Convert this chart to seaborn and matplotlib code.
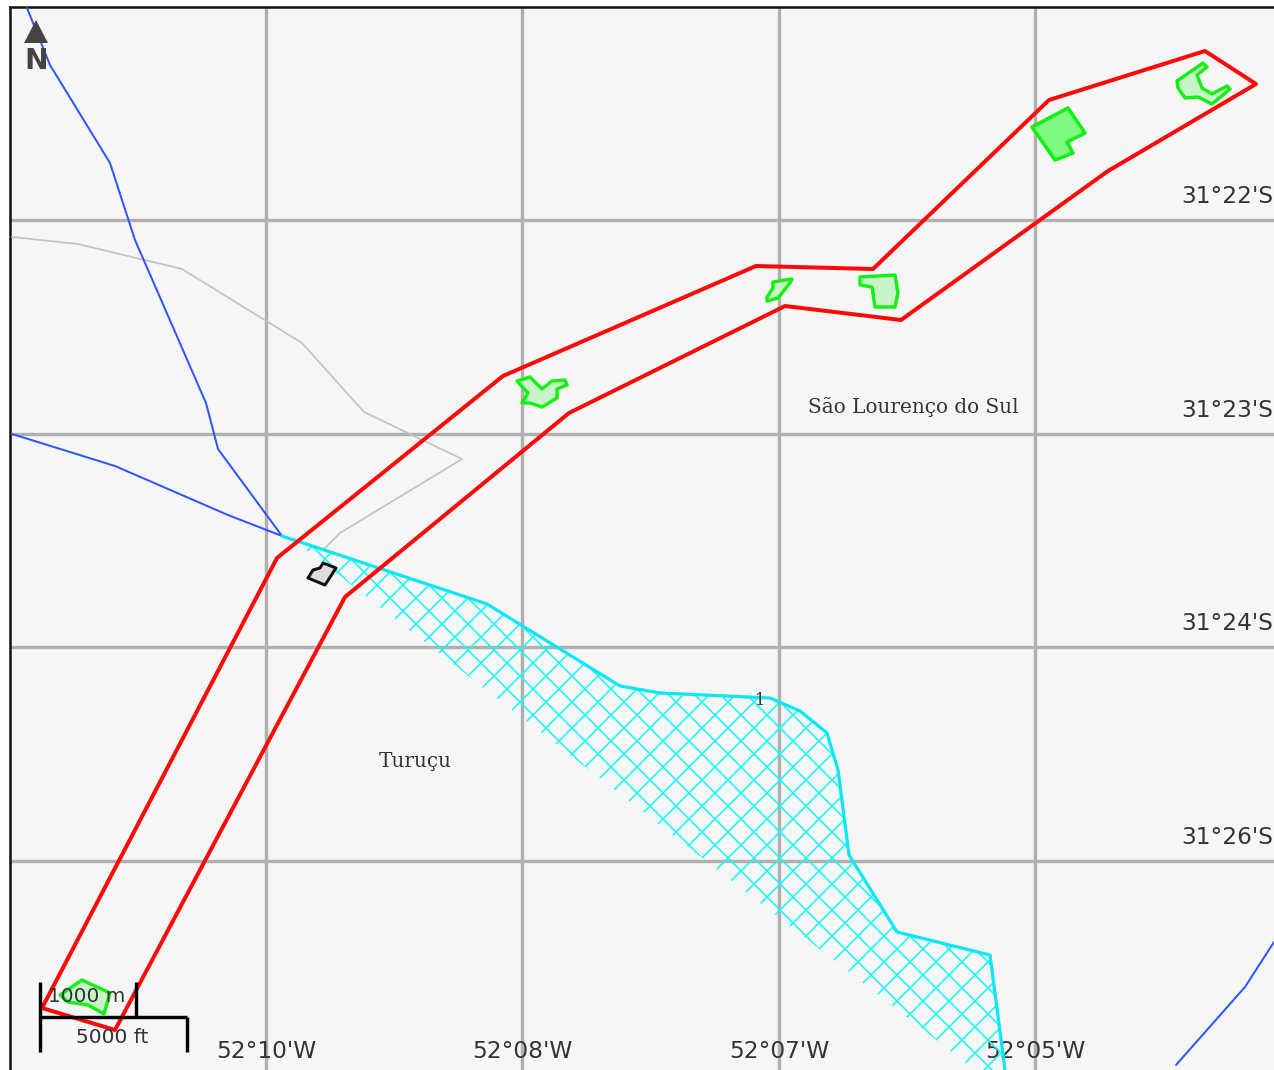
import matplotlib
matplotlib.use("Agg")
import matplotlib.pyplot as plt
from matplotlib.patches import Polygon
from matplotlib.transforms import ScaledTranslation
import pandas as pd
import seaborn as sns

lon_ticks = [266, 522, 779, 1035]
lon_labels = ["52°10'W", "52°08'W", "52°07'W", "52°05'W"]
lat_ticks = [220, 434, 647, 861]
lat_labels = ["31°22'S", "31°23'S", "31°24'S", "31°26'S"]

corridor_x = [42, 277, 503, 756, 873, 1049, 1205, 1256, 1108, 901, 785, 569, 345, 115, 42]
corridor_y = [1008, 558, 376, 266, 269, 100, 51, 84, 171, 320, 306, 413, 597, 1030, 1008]

river1_x = [27, 50, 110, 135, 206, 218, 282]
river1_y = [8, 65, 163, 240, 403, 449, 536]
river2_x = [12, 115, 228, 282]
river2_y = [434, 466, 515, 536]
river3_x = [1176, 1245, 1274]
river3_y = [1065, 987, 942]

road_x = [12, 78, 182, 302, 364, 462, 340, 325]
road_y = [237, 244, 269, 343, 412, 459, 533, 548]

shore_x = [282, 487, 620, 660, 770, 800, 827, 838, 849, 897, 990, 1005]
shore_y = [536, 604, 686, 693, 698, 711, 733, 770, 855, 932, 955, 1070]
water_edge_x = [975, 300]
water_edge_y = [1070, 545]

patch_a = [(517, 381), (530, 377), (542, 389), (552, 381), (565, 380), (567, 385),
           (557, 389), (557, 398), (542, 407), (530, 403), (522, 403), (528, 393)]
patch_b = [(773, 282), (792, 279), (790, 283), (778, 298), (767, 301), (767, 297), (773, 288)]
patch_c = [(860, 277), (895, 275), (898, 293), (895, 307), (875, 307), (872, 287), (860, 285)]
patch_d = [(1032, 127), (1068, 108), (1085, 133), (1067, 142), (1073, 153), (1055, 160)]
patch_e = [(1177, 81), (1203, 63), (1207, 67), (1197, 75), (1202, 88), (1212, 94), (1227, 86),
           (1230, 89), (1212, 104), (1198, 97), (1185, 98), (1178, 88)]
patch_f = [(60, 995), (82, 980), (110, 993), (104, 1014), (88, 1005), (68, 1002)]
site_black = [(308, 578), (313, 570), (320, 568), (323, 563), (336, 568), (325, 585)]

DPI = 78
PX = 72 / DPI

sns.set_theme(style="white")
plt.rcParams["hatch.linewidth"] = 1.6 * PX

fig = plt.figure(figsize=(1274 / DPI, 1070 / DPI), dpi=DPI, facecolor="white")
ax = fig.add_axes([10 / 1274, 0, 1264 / 1274, 1063 / 1070])
ax.set_facecolor("#f6f6f6")
ax.set_xlim(10, 1274)
ax.set_ylim(1070, 7)

# graticule, labels sit inside the frame
ax.set_axisbelow(True)
ax.grid(True, color="#b0b0b0", linewidth=3.4 * PX)
ax.set_xticks(lon_ticks, lon_labels)
ax.yaxis.tick_right()
ax.set_yticks(lat_ticks, lat_labels, va="bottom")
ax.tick_params(axis="x", length=0, pad=-30 * PX, labelsize=21.5, labelcolor="#333333")
ax.tick_params(axis="y", length=0, pad=-93 * PX, labelsize=21.5, labelcolor="#333333")
# latitude labels float above their lines
for label in ax.get_yticklabels():
    label.set_transform(label.get_transform() + ScaledTranslation(0, 12 / DPI, fig.dpi_scale_trans))

for name in ["right", "bottom"]:
    ax.spines[name].set_visible(False)
for name in ["left", "top"]:
    ax.spines[name].set_color("#111111")
    ax.spines[name].set_linewidth(2.5 * PX)

# hatched water body
water = list(zip(shore_x, shore_y)) + list(zip(water_edge_x, water_edge_y))
ax.add_patch(Polygon(water, closed=True, facecolor="none", edgecolor="#1af8f8",
                     hatch="x", linewidth=0, zorder=2))


def draw_line(xs, ys, color, width, z=3):
    df = pd.DataFrame({"x": xs, "y": ys})
    sns.lineplot(data=df, x="x", y="y", sort=False, estimator=None, color=color,
                 linewidth=width * PX, ax=ax, zorder=z, solid_joinstyle="round")


draw_line(road_x, road_y, "#c4c4c4", 1.8)
draw_line(river1_x, river1_y, "#2f55ff", 2.0)
draw_line(river2_x, river2_y, "#2f55ff", 2.0)
draw_line(river3_x, river3_y, "#2f55ff", 2.0)
draw_line(shore_x, shore_y, "#08e8f4", 3.2, z=4)
draw_line(corridor_x, corridor_y, "#ff0808", 4.0, z=5)
ax.set_xlabel("")
ax.set_ylabel("")

for pts in [patch_a, patch_b, patch_c, patch_e, patch_f]:
    ax.add_patch(Polygon(pts, closed=True, facecolor=(0.78, 0.96, 0.78), edgecolor="#14f014",
                         linewidth=3.4 * PX, joinstyle="round", zorder=6))
ax.add_patch(Polygon(patch_d, closed=True, facecolor=(0.5, 0.98, 0.5), edgecolor="#14f014",
                     linewidth=3.6 * PX, joinstyle="round", zorder=6))
ax.add_patch(Polygon(site_black, closed=True, facecolor="#dedede", edgecolor="#111111",
                     linewidth=3 * PX, joinstyle="round", zorder=6))

# place names
serif = "DejaVu Serif"
ax.text(913, 407, "São Lourenço do Sul", family=serif, fontsize=18.5, color="#333333",
        ha="center", va="center", zorder=7)
ax.text(415, 762, "Turuçu", family=serif, fontsize=18.5, color="#333333",
        ha="center", va="center", zorder=7)
ax.text(760, 701, "1", family=serif, fontsize=15, color="#333333",
        ha="center", va="center", zorder=7)

# north arrow
ax.add_patch(Polygon([(24, 43), (48, 43), (36, 20)], closed=True, facecolor="#444444",
                     edgecolor="none", zorder=8))
ax.text(36, 61, "N", fontsize=26, fontweight="bold", color="#444444",
        ha="center", va="center", zorder=8)

# scale bar
for xs, ys in [([40, 187], [1017, 1017]), ([40, 40], [982, 1052]),
               ([136, 136], [982, 1017]), ([187, 187], [1017, 1052])]:
    ax.plot(xs, ys, color="black", linewidth=3.4 * PX, zorder=8, solid_capstyle="butt")
ax.text(87, 997, "1000 m", fontsize=18.5, color="#333333", ha="center", va="center", zorder=9)
ax.text(112, 1038, "5000 ft", fontsize=18.5, color="#333333", ha="center", va="center", zorder=9)

fig.savefig("out.png", dpi=DPI)
